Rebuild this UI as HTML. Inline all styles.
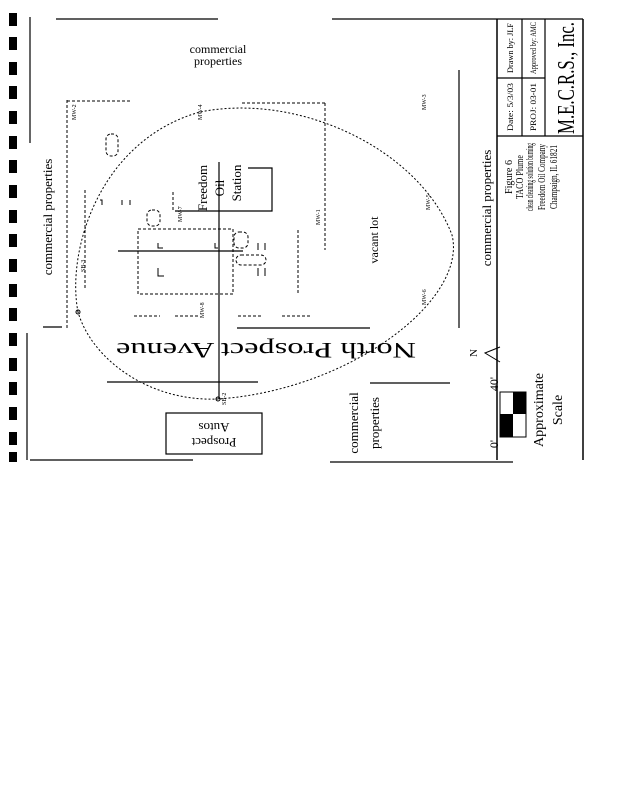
<!DOCTYPE html>
<html><head><meta charset="utf-8"><style>
html,body{margin:0;padding:0;background:#fff}
svg{display:block}
text{font-family:"Liberation Serif",serif;fill:#000}
</style></head><body>
<svg width="618" height="800" viewBox="0 0 618 800" xmlns="http://www.w3.org/2000/svg">
<g fill="#000">
<rect x="9" y="13" width="8" height="13"/><rect x="9" y="37" width="8" height="13"/>
<rect x="9" y="62" width="8" height="13"/><rect x="9" y="86" width="8" height="13"/>
<rect x="9" y="111" width="8" height="13"/><rect x="9" y="136" width="8" height="13"/>
<rect x="9" y="160" width="8" height="13"/><rect x="9" y="185" width="8" height="13"/>
<rect x="9" y="210" width="8" height="13"/><rect x="9" y="234" width="8" height="13"/>
<rect x="9" y="259" width="8" height="13"/><rect x="9" y="284" width="8" height="13"/>
<rect x="9" y="308" width="8" height="13"/><rect x="9" y="333" width="8" height="13"/>
<rect x="9" y="358" width="8" height="13"/><rect x="9" y="382" width="8" height="13"/>
<rect x="9" y="407" width="8" height="13"/><rect x="9" y="432" width="8" height="13"/>
<rect x="9" y="452" width="8" height="10"/>
</g>
<g stroke="#000" stroke-width="1.2" fill="none">
<line x1="56" y1="19" x2="218" y2="19"/>
<line x1="332" y1="19" x2="583" y2="19"/>
<line x1="30" y1="17" x2="30" y2="143"/>
<line x1="27" y1="333" x2="27" y2="460"/>
<line x1="30" y1="460" x2="193" y2="460"/>
<line x1="330" y1="462" x2="513" y2="462"/>
<line x1="497" y1="19" x2="497" y2="460" stroke-width="1.5"/>
<line x1="583" y1="19" x2="583" y2="460" stroke-width="1.5"/>
<line x1="497" y1="136" x2="583" y2="136"/>
<line x1="522" y1="19" x2="522" y2="136"/>
<line x1="545" y1="19" x2="545" y2="136"/>
<line x1="497" y1="78" x2="545" y2="78"/>
<line x1="459" y1="70" x2="459" y2="328"/>
<line x1="43" y1="327" x2="62" y2="327"/>
<line x1="237" y1="328" x2="370" y2="328"/>
<line x1="107" y1="382" x2="258" y2="382"/>
<line x1="370" y1="383" x2="450" y2="383"/>
<polyline points="175,211 272,211 272,168 248,168"/>
<line x1="219" y1="162" x2="219" y2="399"/>
<line x1="118" y1="251" x2="243" y2="251"/>
<rect x="166" y="413" width="96" height="41"/>
</g>
<g stroke="#000" stroke-width="1" fill="none" stroke-dasharray="3,2">
<line x1="67" y1="100" x2="67" y2="330"/>
<line x1="67" y1="101" x2="130" y2="101"/>
<line x1="242" y1="103" x2="325" y2="103"/>
<line x1="325" y1="103" x2="325" y2="250"/>
<line x1="85" y1="190" x2="85" y2="290"/>
<rect x="138" y="229" width="95" height="65"/>
<line x1="298" y1="230" x2="298" y2="295"/>
<line x1="173" y1="192" x2="173" y2="211"/>
<line x1="134" y1="316" x2="160" y2="316"/>
<line x1="175" y1="316" x2="200" y2="316"/>
<line x1="238" y1="316" x2="262" y2="316"/>
<line x1="282" y1="316" x2="310" y2="316"/>
<line x1="500" y1="392" x2="500" y2="414"/>
<path d="M78,312 C66,250 100,140 200,112 C300,92 420,150 452,235 C468,300 350,390 218,399 C150,402 92,360 78,312 Z" stroke-dasharray="2,2"/>
<rect x="106" y="134" width="12" height="22" rx="5"/>
<rect x="147" y="210" width="13" height="16" rx="5"/>
<rect x="234" y="232" width="14" height="16" rx="5"/>
<rect x="236" y="255" width="30" height="10" rx="5"/>
</g>
<g stroke="#000" stroke-width="1" fill="none">
<polyline points="158,243 158,248 163,248"/>
<polyline points="158,268 158,276 164,276"/>
<polyline points="215,243 215,248 218,248"/>
<polyline points="258,243 258,250"/><polyline points="265,243 265,250"/>
<polyline points="258,268 258,276"/><polyline points="265,268 265,276"/>
<polyline points="100,200 102,200 102,205"/><polyline points="122,200 122,205"/><polyline points="130,200 130,205"/>
<circle cx="78" cy="312" r="2"/><circle cx="218" cy="399" r="2"/>
<polyline points="500,347 485,353 500,362"/>
</g>
<rect x="500" y="414" width="13" height="23" fill="#000"/>
<rect x="513" y="392" width="13" height="22" fill="#000"/>
<rect x="500" y="392" width="26" height="45" fill="none" stroke="#000"/>
<text x="218" y="53" font-size="12" text-anchor="middle">commercial</text>
<text x="218" y="65" font-size="12" text-anchor="middle">properties</text>
<text transform="translate(52,217) rotate(-90)" font-size="13" text-anchor="middle">commercial properties</text>
<text transform="translate(491,208) rotate(-90)" font-size="13" text-anchor="middle">commercial properties</text>
<text transform="translate(358,423) rotate(-90)" font-size="13" text-anchor="middle">commercial</text>
<text transform="translate(379,423) rotate(-90)" font-size="13" text-anchor="middle">properties</text>
<text transform="translate(207,188) rotate(-90)" font-size="13" text-anchor="middle">Freedom</text>
<text transform="translate(224,188) rotate(-90)" font-size="13" text-anchor="middle">Oil</text>
<text transform="translate(241,183) rotate(-90)" font-size="13" text-anchor="middle">Station</text>
<text transform="translate(378,240) rotate(-90)" font-size="12" text-anchor="middle">vacant lot</text>
<text transform="translate(266,343) rotate(180)" font-size="22" text-anchor="middle" textLength="300" lengthAdjust="spacingAndGlyphs">North Prospect Avenue</text>
<text transform="translate(214,423) rotate(180)" font-size="13" text-anchor="middle">Autos</text>
<text transform="translate(214,438) rotate(180)" font-size="13" text-anchor="middle">Prospect</text>
<text transform="translate(477,353) rotate(-90)" font-size="11" text-anchor="middle">N</text>
<text transform="translate(498,384) rotate(-90)" font-size="12" text-anchor="middle">40'</text>
<text transform="translate(498,444) rotate(-90)" font-size="12" text-anchor="middle">0'</text>
<text transform="translate(543,410) rotate(-90)" font-size="14" text-anchor="middle">Approximate</text>
<text transform="translate(562,410) rotate(-90)" font-size="14" text-anchor="middle">Scale</text>
<text transform="translate(513,107) rotate(-90)" font-size="8" text-anchor="middle" textLength="48" lengthAdjust="spacingAndGlyphs">Date: 5/3/03</text>
<text transform="translate(513,48) rotate(-90)" font-size="8" text-anchor="middle" textLength="50" lengthAdjust="spacingAndGlyphs">Drawn by: JLF</text>
<text transform="translate(536,107) rotate(-90)" font-size="8" text-anchor="middle" textLength="48" lengthAdjust="spacingAndGlyphs">PROJ: 03-01</text>
<text transform="translate(536,48) rotate(-90)" font-size="8" text-anchor="middle" textLength="52" lengthAdjust="spacingAndGlyphs">Approved by: AMC</text>
<text transform="translate(574,78) rotate(-90)" font-size="24" text-anchor="middle" textLength="112" lengthAdjust="spacingAndGlyphs">M.E.C.R.S., Inc.</text>
<text transform="translate(512,177) rotate(-90)" font-size="10" text-anchor="middle" textLength="34" lengthAdjust="spacingAndGlyphs">Figure 6</text>
<text transform="translate(523,177) rotate(-90)" font-size="10" text-anchor="middle" textLength="44" lengthAdjust="spacingAndGlyphs">TACO Plume</text>
<text transform="translate(533,177) rotate(-90)" font-size="10" text-anchor="middle" textLength="68" lengthAdjust="spacingAndGlyphs">clean cleaning solution burning</text>
<text transform="translate(545,177) rotate(-90)" font-size="10" text-anchor="middle" textLength="66" lengthAdjust="spacingAndGlyphs">Freedom Oil Company</text>
<text transform="translate(557,177) rotate(-90)" font-size="10" text-anchor="middle" textLength="64" lengthAdjust="spacingAndGlyphs">Champaign, IL 61821</text>
<g font-size="6">
<text transform="translate(76,120) rotate(-90)">MW-2</text>
<text transform="translate(202,120) rotate(-90)">MW-4</text>
<text transform="translate(426,110) rotate(-90)">MW-3</text>
<text transform="translate(320,225) rotate(-90)">MW-1</text>
<text transform="translate(430,210) rotate(-90)">MW-5</text>
<text transform="translate(426,305) rotate(-90)">MW-6</text>
<text transform="translate(204,318) rotate(-90)">MW-8</text>
<text transform="translate(182,222) rotate(-90)">MW-7</text>
<text transform="translate(85,272) rotate(-90)">SB-3</text>
<text transform="translate(226,405) rotate(-90)">SB-2</text>
</g>
</svg>
</body></html>
